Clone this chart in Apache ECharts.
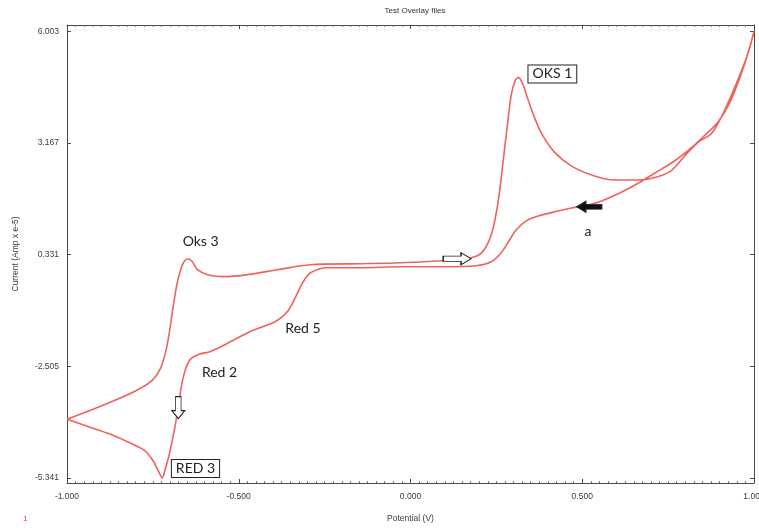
<!DOCTYPE html>
<html>
<head>
<meta charset="utf-8">
<script src="https://cdn.jsdelivr.net/npm/echarts@6/dist/echarts.min.js"></script>
<style>
  html, body { margin: 0; padding: 0; background: #fff; }
  #chart { width: 759px; height: 528px; }
</style>
</head>
<body>
<div id="chart"></div>
<script>
// Cyclic voltammogram: one closed sweep, forward (anodic) branch then return branch.
const sweepPotential = [
  -1.000, -0.924, -0.845, -0.790, -0.752, -0.728, -0.713, -0.703, -0.692, -0.680,
  -0.668, -0.658, -0.647, -0.635, -0.620, -0.591, -0.545, -0.474, -0.387, -0.291,
  -0.145, -0.028, 0.089, 0.162, 0.200, 0.220, 0.235, 0.247, 0.258, 0.270,
  0.282, 0.293, 0.305, 0.314, 0.326, 0.340, 0.355, 0.381, 0.419, 0.469,
  0.536, 0.594, 0.664, 0.717, 0.761, 0.804, 0.839, 0.877, 0.912, 0.950,
  0.980, 1.000,
  0.985, 0.959, 0.930, 0.895, 0.857, 0.819, 0.766, 0.711, 0.664, 0.615,
  0.556, 0.518, 0.469, 0.419, 0.372, 0.337, 0.308, 0.285, 0.264, 0.235,
  0.191, 0.089, -0.028, -0.145, -0.241, -0.291, -0.314, -0.334, -0.358, -0.393,
  -0.466, -0.539, -0.582, -0.617, -0.641, -0.655, -0.667, -0.676, -0.688, -0.702,
  -0.714, -0.723, -0.734, -0.749, -0.772, -0.816, -0.875, -0.933, -1.000
];
const sweepCurrent = [
  -3.846, -3.593, -3.310, -3.080, -2.860, -2.560, -2.150, -1.700, -1.050, -0.420,
  -0.020, 0.170, 0.230, 0.154, -0.049, -0.175, -0.226, -0.175, -0.049, 0.078,
  0.103, 0.128, 0.179, 0.230, 0.331, 0.534, 0.837, 1.268, 1.850, 2.736,
  3.622, 4.382, 4.761, 4.837, 4.685, 4.331, 3.951, 3.420, 2.939, 2.584,
  2.331, 2.230, 2.230, 2.306, 2.483, 2.900, 3.200, 3.420, 3.951, 4.711,
  5.394, 6.003,
  5.521, 4.837, 4.204, 3.698, 3.369, 3.060, 2.700, 2.407, 2.154, 1.926,
  1.698, 1.597, 1.521, 1.420, 1.318, 1.192, 0.964, 0.660, 0.382, 0.154,
  0.053, 0.027, 0.027, 0.002, 0.002, -0.125, -0.378, -0.732, -1.112, -1.365,
  -1.618, -1.947, -2.125, -2.201, -2.327, -2.580, -3.011, -3.542, -4.150, -4.732,
  -5.112, -5.341, -5.163, -4.910, -4.656, -4.454, -4.226, -4.049, -3.846
];
// Axis tick values as printed by the instrument software
const currentTicks = [-5.341, -2.505, 0.331, 3.167, 6.003];
const potentialTicks = [-1.0, -0.5, 0.0, 0.5, 1.0];

const sweep = sweepPotential.map((v, i) => [v, sweepCurrent[i]]);

const ARROW_RIGHT = 'path://M0,4L14,4L14,0L22,7L14,14L14,10L0,10Z';
const ARROW_LEFT = 'path://M22,4L8,4L8,0L0,7L8,14L8,10L22,10Z';
const ARROW_DOWN = 'path://M4,0L10,0L10,14L14,14L7,22L0,14L4,14Z';

const noteFont = { fontFamily: 'Lato', fontSize: 14, color: '#222' };

function textNote(text, coord, boxed) {
  const label = Object.assign({ show: true, position: 'inside', formatter: text }, noteFont);
  if (boxed) {
    Object.assign(label, {
      backgroundColor: '#fff', borderColor: '#222', borderWidth: 1, padding: [2, 4, 1, 4]
    });
  }
  return { coord: coord, symbol: 'rect', symbolSize: 1, itemStyle: { color: 'rgba(0,0,0,0)' }, label: label };
}

function arrowNote(path, coord, size, fill) {
  return {
    coord: coord, symbol: path, symbolSize: size, symbolKeepAspect: false,
    itemStyle: { color: fill, borderColor: '#222', borderWidth: 1 },
    label: { show: false }
  };
}

const axisText = { fontFamily: 'Liberation Sans', fontSize: 8.5, color: '#3a3a3a' };
const frameLine = { show: true, onZero: false, lineStyle: { color: '#4a4a4a', width: 1 } };
const majorTick = { show: true, inside: true, length: 4, lineStyle: { color: '#4a4a4a' } };
const minorTick = { show: true, splitNumber: 20, length: 2, lineStyle: { color: '#777' } };
const currentMin = -5.468, currentMax = 6.168;

const chart = echarts.init(document.getElementById('chart'), null, { renderer: 'canvas' });
chart.setOption({
  animation: false,
  backgroundColor: '#fff',
  title: {
    text: 'Test Overlay files',
    left: 410, top: 2, textAlign: 'center',
    textStyle: { fontFamily: 'Liberation Sans', fontSize: 8, fontWeight: 'normal', color: '#333' }
  },
  grid: { left: 67, right: 5, top: 25, bottom: 45, outerBoundsMode: 'none', containLabel: false },
  xAxis: [
    {
      type: 'value', position: 'bottom', min: -1, max: 1, interval: 0.5,
      name: 'Potential (V)', nameLocation: 'middle', nameGap: 31,
      nameTextStyle: axisText,
      axisLine: frameLine,
      axisTick: majorTick,
      minorTick: minorTick,
      axisLabel: Object.assign({ margin: 9, formatter: v => v.toFixed(3), customValues: potentialTicks, hideOverlap: false }, axisText),
      splitLine: { show: false }
    },
    {
      type: 'value', position: 'top', min: -1, max: 1, interval: 0.5,
      axisLine: frameLine,
      axisTick: majorTick,
      minorTick: minorTick,
      axisLabel: { show: false },
      splitLine: { show: false }
    }
  ],
  yAxis: [
    {
      type: 'value', position: 'left', min: currentMin, max: currentMax,
      name: 'Current (Amp x e-5)', nameLocation: 'middle', nameGap: 47, nameRotate: 90,
      nameTextStyle: axisText,
      axisLine: frameLine,
      axisTick: Object.assign({ customValues: currentTicks }, majorTick),
      axisLabel: Object.assign({ margin: 8, customValues: currentTicks, formatter: v => v.toFixed(3) }, axisText),
      splitLine: { show: false }
    },
    {
      type: 'value', position: 'right', min: currentMin, max: currentMax,
      axisLine: frameLine,
      axisTick: Object.assign({ customValues: currentTicks }, majorTick),
      axisLabel: { show: false },
      splitLine: { show: false }
    }
  ],
  series: [
    {
      type: 'line',
      data: sweep,
      xAxisIndex: 0, yAxisIndex: 0,
      showSymbol: false,
      smooth: 0.3,
      lineStyle: { color: '#f0625b', width: 1.6 },
      markPoint: {
        silent: true,
        data: [
          textNote('OKS 1', [0.413, 4.925], true),
          textNote('a', [0.517, 0.915], false),
          textNote('Oks 3', [-0.611, 0.661], false),
          textNote('Red 5', [-0.313, -1.547], false),
          textNote('Red 2', [-0.556, -2.664], false),
          textNote('RED 3', [-0.626, -5.1], true),
          arrowNote(ARROW_RIGHT, [0.136, 0.229], [28, 12], '#fff'),
          arrowNote(ARROW_LEFT, [0.52, 1.549], [25, 11], '#111'),
          arrowNote(ARROW_DOWN, [-0.676, -3.552], [13, 22], '#fff')
        ]
      }
    }
  ],
  graphic: [
    {
      type: 'text', left: 23, top: 515,
      style: { text: '1', fontFamily: 'Liberation Sans', fontSize: 8, fill: '#e03a3a' }
    }
  ]
});
</script>
</body>
</html>
